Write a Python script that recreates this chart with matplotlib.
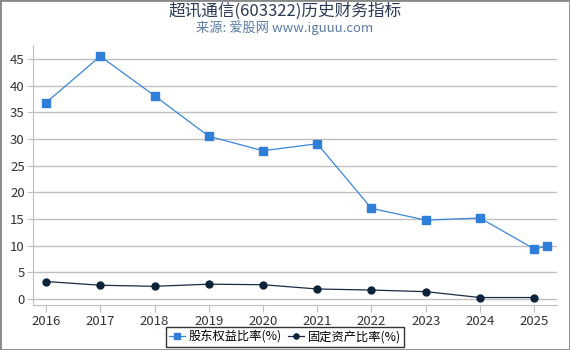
import matplotlib
matplotlib.use("Agg")
from matplotlib import pyplot as plt
from matplotlib.patches import Rectangle

plt.rcParams['font.family'] = ['Noto Sans CJK SC', 'DejaVu Sans']

years = [2016, 2017, 2018, 2019, 2020, 2021, 2022, 2023, 2024, 2025]
equity_x = years + [2025.24]
equity = [36.8, 45.5, 38.1, 30.5, 27.8, 29.1, 17.0, 14.8, 15.2, 9.4, 9.9]
fixed = [3.3, 2.6, 2.4, 2.8, 2.7, 1.9, 1.7, 1.4, 0.3, 0.3]
yticks = [0, 5, 10, 15, 20, 25, 30, 35, 40, 45]

fig = plt.figure(figsize=(5.7, 3.5), dpi=100)
ax = fig.add_axes([33/570, 1 - 305/350, (557-33)/570, (305-45)/350])

ax.plot(equity_x, equity, color='#3a86d8', lw=0.9, marker='s', ms=5.5,
        mfc='#2f7ed8', mec='#2f7ed8', label='股东权益比率(%)')
ax.plot(years, fixed, color='#1a2b44', lw=0.9, marker='o', ms=5,
        mfc='#0d233a', mec='#0d233a', label='固定资产比率(%)')

ax.set_xlim(2015.76, 2025.42)
ax.set_ylim(-1.1, 47.6)
ax.set_xticks(years)
ax.set_yticks(yticks)
ax.grid(axis='y', color='#c0c0c0', lw=1)
ax.set_axisbelow(True)
for s in ['top', 'right']:
    ax.spines[s].set_visible(False)
ax.spines['left'].set_color('#c0c0c0')
ax.spines['bottom'].set_color('#c0c0c0')
ax.tick_params(axis='y', length=4, color='#c0c0c0', labelsize=9.5, labelcolor='#333333', pad=2)
ax.tick_params(axis='x', length=5, color='#c0c0c0', labelsize=9.5, labelcolor='#333333', pad=2)

fig.text(0.5, 1 - 11/350, '超讯通信(603322)历史财务指标', ha='center', va='center',
         fontsize=12, color='#2b3a55')
fig.text(0.5, 1 - 28/350, '来源: 爱股网 www.iguuu.com', ha='center', va='center',
         fontsize=9.5, color='#5b7ba3')

leg = fig.legend(loc='center', bbox_to_anchor=(285/570, 1 - 337/350), ncol=2,
                 fontsize=8.8, frameon=True, fancybox=False, edgecolor='black',
                 handlelength=1.3, handletextpad=0.3, columnspacing=0.5,
                 borderpad=0.3, borderaxespad=0, markerscale=0.75)
leg.get_frame().set_linewidth(1)

fig.patches.append(Rectangle((0, 0), 1, 1, transform=fig.transFigure, fill=False,
                             edgecolor='#888888', lw=2))

fig.savefig('out.png', dpi=100)
